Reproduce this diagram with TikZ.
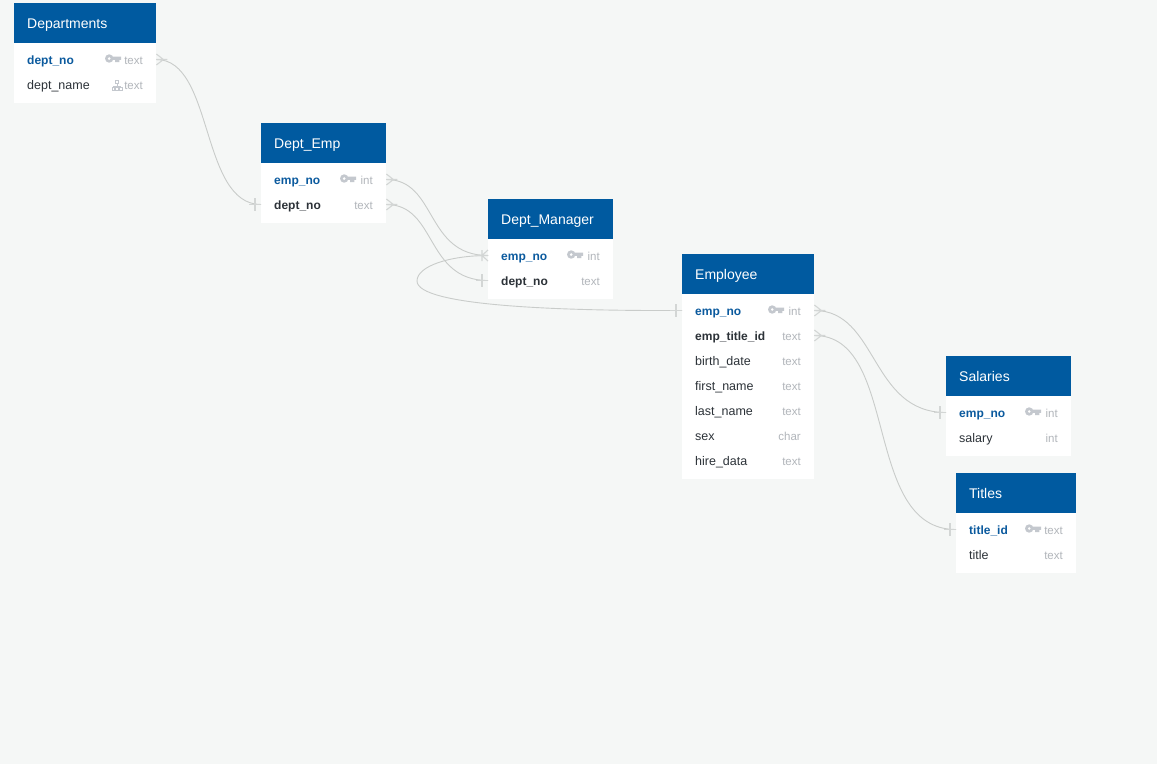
\documentclass[tikz,border=0pt]{standalone}
\usepackage{fontspec}
\setmainfont{Liberation Sans}
\usetikzlibrary{arrows, positioning}
\definecolor{pagebg}{HTML}{F5F7F6}
\definecolor{headblue}{HTML}{005AA0}
\definecolor{keyblue}{HTML}{0B5A9E}
\definecolor{namedark}{HTML}{2C3238}
\definecolor{typegray}{HTML}{B2B6BB}
\definecolor{icongray}{HTML}{C4C8CE}
\definecolor{linkgray}{HTML}{C9CCCA}
\definecolor{markgray}{HTML}{D3D6D5}
\tikzset{>=stealth}
\tikzset{
  head/.style={fill=headblue, text=white, anchor=north west, minimum height=40pt, inner xsep=13pt, inner ysep=0pt, align=left, text height=13pt, text depth=3pt, font=\fontsize{14}{16}\selectfont},
  body/.style={fill=white, anchor=north west, inner sep=0pt},
  field/.style={anchor=west, minimum height=25pt, inner xsep=13pt, inner ysep=0pt, align=left, text=namedark, text height=12pt, text depth=3pt, font=\fontsize{12.5}{15}\selectfont},
  pk/.style={field, text=keyblue, font=\fontsize{12}{15}\selectfont\bfseries},
  fk/.style={field, font=\fontsize{12}{15}\selectfont\bfseries},
  kind/.style={anchor=east, inner sep=0pt, text=typegray, text height=12pt, text depth=3pt, font=\fontsize{11.5}{15}\selectfont},
  link/.style={draw=linkgray, line width=0.9pt},
  keyicon/.pic={
    \fill[icongray, even odd rule] (4.2,0) circle (4.2) (4.2,0) circle (1.7);
    \fill[icongray] (7,-1.8) -- (16,-1.8) -- (16,1.4) -- (14.4,1.4) -- (14.4,3.6) -- (10,3.6) -- (10,1.4) -- (7,1.4) -- cycle;
  },
  treeicon/.pic={
    \draw[icongray, line width=0.8pt] (3.2,-5.5) rectangle (6.8,-2.2) (5,-2.2) -- (5,0.5) (1.2,2) -- (1.2,0.5) -- (8.8,0.5) -- (8.8,2) (0,2) rectangle (2.4,5) (3.8,2) rectangle (6.2,5) (7.6,2) rectangle (10,5);
  },
  crowright/.pic={
    \draw[markgray, line width=1.1pt] (0,-5.5) -- (7,0) -- (0,5.5) (0,0) -- (11,0);
  },
  crowleft/.pic={
    \draw[markgray, line width=1.1pt] (0,-5.5) -- (-6,0) -- (0,5.5) (0,0) -- (-11,0) (-6,-5.5) -- (-6,5.5);
  },
  barleft/.pic={
    \draw[markgray, line width=1.1pt] (-6,-6.5) -- (-6,6.5) (0,0) -- (-12,0);
  }
}

\begin{document}
\begin{tikzpicture}[x=1pt, y=-1pt]
    \fill[pagebg] (0,0) rectangle (1157,764);
    \useasboundingbox (0,0) rectangle (1157,764);

    % Departments
    \node [body, minimum width=142pt, minimum height=60pt](depBody) at (14,43) {};
    \node [head, text width=116pt](depHead) at (14,3) {Departments};
    \node [pk, text width=116pt](depNo) at (14,59.5) {dept\_no};
    \node [field, text width=116pt](depName) at (14,84.5) {dept\_name};
    \node [kind](depNoKind) at (143,59.5) {text};
    \node [kind](depNameKind) at (143,84.5) {text};
    \pic at (105,58.5) {keyicon};
    \pic at (112,85.5) {treeicon};

    % Dept_Emp
    \node [body, minimum width=125pt, minimum height=60pt](deBody) at (261,163) {};
    \node [head, text width=99pt](deHead) at (261,123) {Dept\_Emp};
    \node [pk, text width=99pt](deEmp) at (261,179.5) {emp\_no};
    \node [fk, text width=99pt](deDept) at (261,204.5) {dept\_no};
    \node [kind](deEmpKind) at (373,179.5) {int};
    \node [kind](deDeptKind) at (373,204.5) {text};
    \pic at (340,178.5) {keyicon};

    % Dept_Manager
    \node [body, minimum width=125pt, minimum height=60pt](dmBody) at (488,239) {};
    \node [head, text width=99pt](dmHead) at (488,199) {Dept\_Manager};
    \node [pk, text width=99pt](dmEmp) at (488,255.5) {emp\_no};
    \node [fk, text width=99pt](dmDept) at (488,280.5) {dept\_no};
    \node [kind](dmEmpKind) at (600,255.5) {int};
    \node [kind](dmDeptKind) at (600,280.5) {text};
    \pic at (567,254.5) {keyicon};

    % Employee
    \node [body, minimum width=132pt, minimum height=185pt](empBody) at (682,294) {};
    \node [head, text width=106pt](empHead) at (682,254) {Employee};
    \node [pk, text width=106pt](empNo) at (682,310.5) {emp\_no};
    \node [fk, text width=106pt](empTitle) at (682,335.5) {emp\_title\_id};
    \node [field, text width=106pt](empBirth) at (682,360.5) {birth\_date};
    \node [field, text width=106pt](empFirst) at (682,385.5) {first\_name};
    \node [field, text width=106pt](empLast) at (682,410.5) {last\_name};
    \node [field, text width=106pt](empSex) at (682,435.5) {sex};
    \node [field, text width=106pt](empHire) at (682,460.5) {hire\_data};
    \node [kind](empNoKind) at (801,310.5) {int};
    \node [kind](empTitleKind) at (801,335.5) {text};
    \node [kind](empBirthKind) at (801,360.5) {text};
    \node [kind](empFirstKind) at (801,385.5) {text};
    \node [kind](empLastKind) at (801,410.5) {text};
    \node [kind](empSexKind) at (801,435.5) {char};
    \node [kind](empHireKind) at (801,460.5) {text};
    \pic at (768,309.5) {keyicon};

    % Salaries
    \node [body, minimum width=125pt, minimum height=60pt](salBody) at (946,396) {};
    \node [head, text width=99pt](salHead) at (946,356) {Salaries};
    \node [pk, text width=99pt](salEmp) at (946,412.5) {emp\_no};
    \node [field, text width=99pt](salAmount) at (946,437.5) {salary};
    \node [kind](salEmpKind) at (1058,412.5) {int};
    \node [kind](salAmountKind) at (1058,437.5) {int};
    \pic at (1025,411.5) {keyicon};

    % Titles
    \node [body, minimum width=120pt, minimum height=60pt](titBody) at (956,513) {};
    \node [head, text width=94pt](titHead) at (956,473) {Titles};
    \node [pk, text width=94pt](titId) at (956,529.5) {title\_id};
    \node [field, text width=94pt](titName) at (956,554.5) {title};
    \node [kind](titIdKind) at (1063,529.5) {text};
    \node [kind](titNameKind) at (1063,554.5) {text};
    \pic at (1025,528.5) {keyicon};

    % links
    \draw [link] (depNo.east) .. controls (214,59.5) and (200,204.5) .. (deDept.west);
    \draw [link] (deEmp.east) .. controls (437,179.5) and (425,255.5) .. (dmEmp.west);
    \draw [link] (deDept.east) .. controls (437,204.5) and (425,280.5) .. (dmDept.west);
    \draw [link] (empNo.west) .. controls (560,311) and (417,306) .. (417,281) .. controls (417,266) and (450,255.5) .. (dmEmp.west);
    \draw [link] (empNo.east) .. controls (878,310.5) and (870,412.5) .. (salEmp.west);
    \draw [link] (empTitle.east) .. controls (900,335.5) and (862,529.5) .. (titId.west);

    % ends of the links
    \pic at (depNo.east) {crowright};
    \pic at (deEmp.east) {crowright};
    \pic at (deDept.east) {crowright};
    \pic at (empNo.east) {crowright};
    \pic at (empTitle.east) {crowright};
    \pic at (dmEmp.west) {crowleft};
    \pic at (deDept.west) {barleft};
    \pic at (dmDept.west) {barleft};
    \pic at (empNo.west) {barleft};
    \pic at (salEmp.west) {barleft};
    \pic at (titId.west) {barleft};
\end{tikzpicture}
\end{document}
